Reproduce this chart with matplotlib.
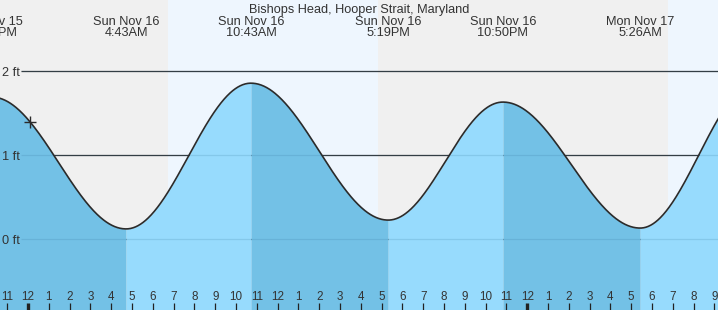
import numpy as np
import matplotlib
matplotlib.use("Agg")
import matplotlib.pyplot as plt
import matplotlib.transforms as mtransforms

plt.rcParams['font.family'] = ['Liberation Sans', 'DejaVu Sans']

title = "Bishops Head, Hooper Strait, Maryland"

# Tide extremes: hours from midnight Sun Nov 16, height in ft
extreme_hours = [-1.75, 4.717, 10.717, 17.317, 22.833, 29.433, 35.07]
extreme_heights = [1.69, 0.12, 1.855, 0.225, 1.63, 0.13, 1.87]
# Labels for the extremes shown in the picture (the last one lies off-screen)
extreme_days = ["Sat Nov 15", "Sun Nov 16", "Sun Nov 16", "Sun Nov 16",
                "Sun Nov 16", "Mon Nov 17"]
extreme_times = ["10:15PM", "4:43AM", "10:43AM", "5:19PM",
                 "10:50PM", "5:26AM"]

# Daylight intervals (hours from midnight Nov 16)
day_intervals = [(6.73, 16.83), (30.77, 40.0)]

# Hour ticks
tick_hours = list(range(-1, 34))
tick_labels = [str((h % 12) or 12) for h in tick_hours]
y_ticks = [0, 1, 2]
y_tick_labels = ["0 ft", "1 ft", "2 ft"]

now_hour = 0.117

# ---- layout (pixel-based mapping) ----
W, H = 718, 310
PX_PER_H = 20.8
X0 = 28.0           # pixel of midnight Nov 16
PX_PER_FT = 84.0
Y0 = 239.0          # pixel of 0 ft

xmin = -X0 / PX_PER_H
xmax = (W - X0) / PX_PER_H
ymax = Y0 / PX_PER_FT
ymin = (Y0 - H) / PX_PER_FT

fig = plt.figure(figsize=(W / 100, H / 100), dpi=100)
ax = fig.add_axes([0, 0, 1, 1])
ax.set_xlim(xmin, xmax)
ax.set_ylim(ymin, ymax)
ax.axis('off')

night_c = '#f0f0f0'
day_c = '#eef6fe'
fall_c = '#73c1e6'
rise_c = '#97dbfd'
txt_c = '#333333'

ax.axvspan(xmin, xmax, color=night_c, zorder=0, lw=0)
for a, b in day_intervals:
    ax.axvspan(a, b, color=day_c, zorder=0.1, lw=0)

# gridlines (behind water)
gx0 = (21 - X0) / PX_PER_H
for yv in y_ticks:
    ax.hlines(yv, gx0, xmax, color='#333333', lw=0.9, zorder=1)

# curve: cosine between extremes
all_t, all_v = [], []
for i in range(len(extreme_hours) - 1):
    t0, t1 = extreme_hours[i], extreme_hours[i + 1]
    v0, v1 = extreme_heights[i], extreme_heights[i + 1]
    t = np.linspace(t0, t1, 200)
    f = (1 - np.cos(np.pi * (t - t0) / (t1 - t0))) / 2
    v = v0 + (v1 - v0) * f
    color = fall_c if v1 < v0 else rise_c
    ax.fill_between(t, v, ymin, color=color, lw=0, zorder=2)
    all_t.append(t)
    all_v.append(v)
all_t = np.concatenate(all_t)
all_v = np.concatenate(all_v)

# gridlines over water (subtle)
for yv in y_ticks:
    ax.hlines(yv, gx0, xmax, color=(0.2, 0.45, 0.6, 0.18), lw=0.9, zorder=3)

ax.plot(all_t, all_v, color='#2b2b2b', lw=1.2, zorder=4, solid_capstyle='round')

# current time marker
now_v = np.interp(now_hour, all_t, all_v)
ax.plot([now_hour], [now_v], marker='+', ms=8, mew=1.0, color='#2b2b2b', zorder=5)

# text helpers: x data, y axes fraction from pixel
trans = mtransforms.blended_transform_factory(ax.transData, ax.transAxes)
def fy(py):
    return 1 - py / H

ax.text(0.5, fy(12.7), title, transform=ax.transAxes, ha='center', va='baseline',
        fontsize=9.2, color=txt_c, zorder=6)

for t, d, s in zip(extreme_hours, extreme_days, extreme_times):
    ax.text(t, fy(25), d, transform=trans, ha='center', va='baseline',
            fontsize=9.2, color=txt_c, zorder=6, clip_on=False)
    ax.text(t, fy(36.5), s, transform=trans, ha='center', va='baseline',
            fontsize=9.2, color=txt_c, zorder=6, clip_on=False)

# y labels
for yv, lab in zip(y_ticks, y_tick_labels):
    ax.text(2 / PX_PER_H + xmin, yv, lab, ha='left', va='center_baseline',
            fontsize=9.2, color=txt_c, zorder=6)

# hour ticks
for h, lab in zip(tick_hours, tick_labels):
    ax.text(h, fy(300), lab, transform=trans, ha='center', va='baseline',
            fontsize=8.4, color=txt_c, zorder=6)
    lw = 2.4 if (h % 24) == 0 else 0.9
    ax.plot([h, h], [fy(303), fy(310)], transform=trans, color='#222222',
            lw=lw, zorder=6, solid_capstyle='butt')

fig.savefig('out.png', dpi=100)
